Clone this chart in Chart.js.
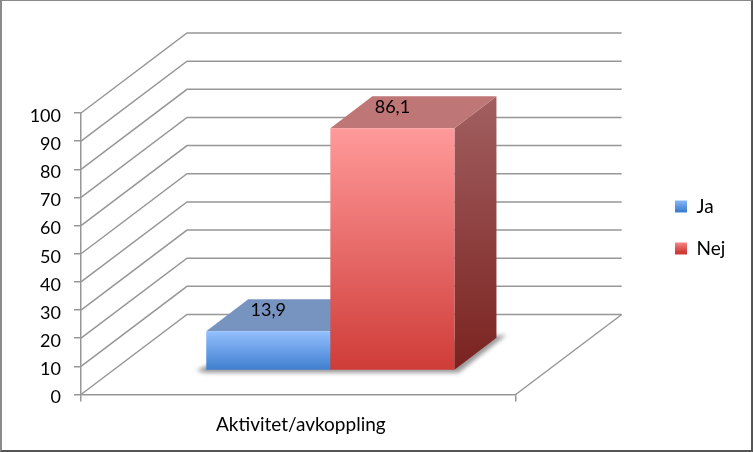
<!DOCTYPE html>
<html>
<head>
<meta charset="utf-8">
<title>Aktivitet/avkoppling</title>
<script src="https://cdn.jsdelivr.net/npm/chart.js@4/dist/chart.umd.min.js"></script>
<style>
  html, body { margin: 0; padding: 0; background: #fff; }
  #wrap { position: relative; width: 753px; height: 452px; overflow: hidden; }
  #chart { display: block; }
  #frame {
    position: absolute; left: 0; top: 0; right: 0; bottom: 0;
    border-style: solid; border-width: 1px 2px 2px 2px;
    border-color: #8a8a8a #555 #555 #8a8a8a; pointer-events: none;
  }
</style>
</head>
<body>
<div id="wrap">
  <canvas id="chart" width="753" height="452"></canvas>
  <div id="frame"></div>
</div>
<script>
const categories = ["Aktivitet/avkoppling"];
const seriesNames = ["Ja", "Nej"];
const jaValues = [13.9];
const nejValues = [86.1];
const axisMax = 100;
const axisStep = 10;

// fake 3D: wall depth, how far the bars stand from the front, bar depth
const wallDx = 106, wallDy = -80;
const barDx = 32, barDy = -24;
const depthDx = 42, depthDy = -32;
const lineColor = "#979797";

const looks = [
  { front: ["#93bffe", "#3f7fcf"], top: "#7793c0", side: ["#5f7ba8", "#2f5f9f"] },
  { front: ["#ff9a9a", "#cf3c38"], top: "#bf7676", side: ["#a25f60", "#7a2320"] }
];

const canvas = document.getElementById("chart");
const ctx = canvas.getContext("2d");

function vGradient(colors, y0, y1) {
  const g = ctx.createLinearGradient(0, y0, 0, y1);
  g.addColorStop(0, colors[0]);
  g.addColorStop(1, colors[1]);
  return g;
}

function poly(c, pts, fill) {
  c.beginPath();
  pts.forEach((p, i) => i ? c.lineTo(p[0], p[1]) : c.moveTo(p[0], p[1]));
  c.closePath();
  c.fillStyle = fill;
  c.fill();
}

const wallsAndBars = {
  id: "wallsAndBars",
  afterLayout(chart) {
    // move the legend out to the right and up, it normally sits against the chart area
    const shift = 652 - chart.legend.left;
    chart.legend.left += shift;
    chart.legend.right += shift;
    chart.legend.top -= 55;
    chart.legend.bottom -= 55;
  },
  beforeDatasetsDraw(chart) {
    const c = chart.ctx, y = chart.scales.y, area = chart.chartArea;
    c.save();
    c.strokeStyle = lineColor;
    c.lineWidth = 1.5;
    y.ticks.forEach(t => {
      const py = y.getPixelForValue(t.value);
      c.beginPath();
      c.moveTo(area.left, py);
      c.lineTo(area.left + wallDx, py + wallDy);
      c.lineTo(area.right + wallDx, py + wallDy);
      c.stroke();
    });
    c.beginPath();
    c.moveTo(area.right, area.bottom);
    c.lineTo(area.right + wallDx, area.bottom + wallDy);
    c.stroke();
    c.restore();
  },
  beforeDatasetDraw() {
    return false;
  },
  afterDatasetsDraw(chart) {
    const c = chart.ctx;
    const bars = seriesNames.map((n, i) => chart.getDatasetMeta(i).data[0]);
    const first = bars[0], last = bars[bars.length - 1];
    const floorY = first.base + barDy;
    const x0 = first.x - first.width / 2 + barDx;
    const x1 = last.x + last.width / 2 + barDx;

    // soft shadow on the floor
    c.save();
    c.filter = "blur(2px)";
    poly(c, [[x0 - 10, floorY + 1], [x0, floorY - 4], [x1 + 42, floorY - 34], [x1 + 52, floorY - 35],
             [x1 + 4, floorY + 3], [x0, floorY + 3]], "rgba(0,0,0,0.4)");
    c.restore();

    bars.forEach((el, i) => {
      const l = el.x - el.width / 2 + barDx, r = el.x + el.width / 2 + barDx;
      const t = el.y + barDy, b = el.base + barDy;
      const look = looks[i];
      poly(c, [[r, t], [r + depthDx, t + depthDy], [r + depthDx, b + depthDy], [r, b]],
        vGradient(look.side, t + depthDy, b));
      poly(c, [[l, t], [l + depthDx, t + depthDy], [r + depthDx, t + depthDy], [r, t]], look.top);
      poly(c, [[l, t], [r, t], [r, b], [l, b]], vGradient(look.front, t, b));
    });

    c.save();
    c.font = "18px Lato";
    c.fillStyle = "#000";
    c.textAlign = "center";
    c.textBaseline = "middle";
    bars.forEach((el, i) => {
      const value = chart.data.datasets[i].data[0];
      c.fillText(String(value).replace(".", ","), el.x + barDx, el.y + barDy - 21);
    });
    c.restore();
  }
};

new Chart(canvas, {
  type: "bar",
  plugins: [wallsAndBars],
  data: {
    labels: categories,
    datasets: [
      { label: seriesNames[0], data: jaValues, backgroundColor: "#6a9fe6" },
      { label: seriesNames[1], data: nejValues, backgroundColor: "#e66a6a" }
    ]
  },
  options: {
    responsive: false,
    animation: false,
    events: [],
    font: { family: "Lato", size: 17 },
    datasets: { bar: { categoryPercentage: 0.571, barPercentage: 1 } },
    layout: { padding: { left: 0, top: 113, bottom: 0, right: 154 } },
    scales: {
      x: {
        offset: true,
        afterFit: s => { s.height = 57.5; },
        border: { color: lineColor, width: 1.5 },
        grid: { drawOnChartArea: false, drawTicks: true, tickLength: 7, color: lineColor, lineWidth: 1.5 },
        ticks: { color: "#000", padding: 12, labelOffset: 2.5, font: { family: "Lato", size: 19 } }
      },
      y: {
        min: 0,
        max: axisMax,
        afterFit: s => { s.width = 81; },
        border: { color: lineColor, width: 1.5 },
        grid: { drawOnChartArea: false, drawTicks: true, tickLength: 7, color: lineColor, lineWidth: 1.5 },
        ticks: { stepSize: axisStep, color: "#000", padding: 13, labelOffset: 3, font: { family: "Lato", size: 18 } }
      }
    },
    plugins: {
      tooltip: { enabled: false },
      legend: {
        position: "right",
        labels: {
          color: "#000",
          boxWidth: 12,
          boxHeight: 12,
          padding: 23,
          font: { family: "Lato", size: 19 },
          generateLabels: chart => seriesNames.map((name, i) => ({
            text: name,
            datasetIndex: i,
            lineWidth: 0,
            strokeStyle: "transparent",
            fontColor: "#000",
            fillStyle: vGradient(looks[i].front, i ? 240 : 199, i ? 252 : 211)
          }))
        }
      }
    }
  }
});
</script>
</body>
</html>
